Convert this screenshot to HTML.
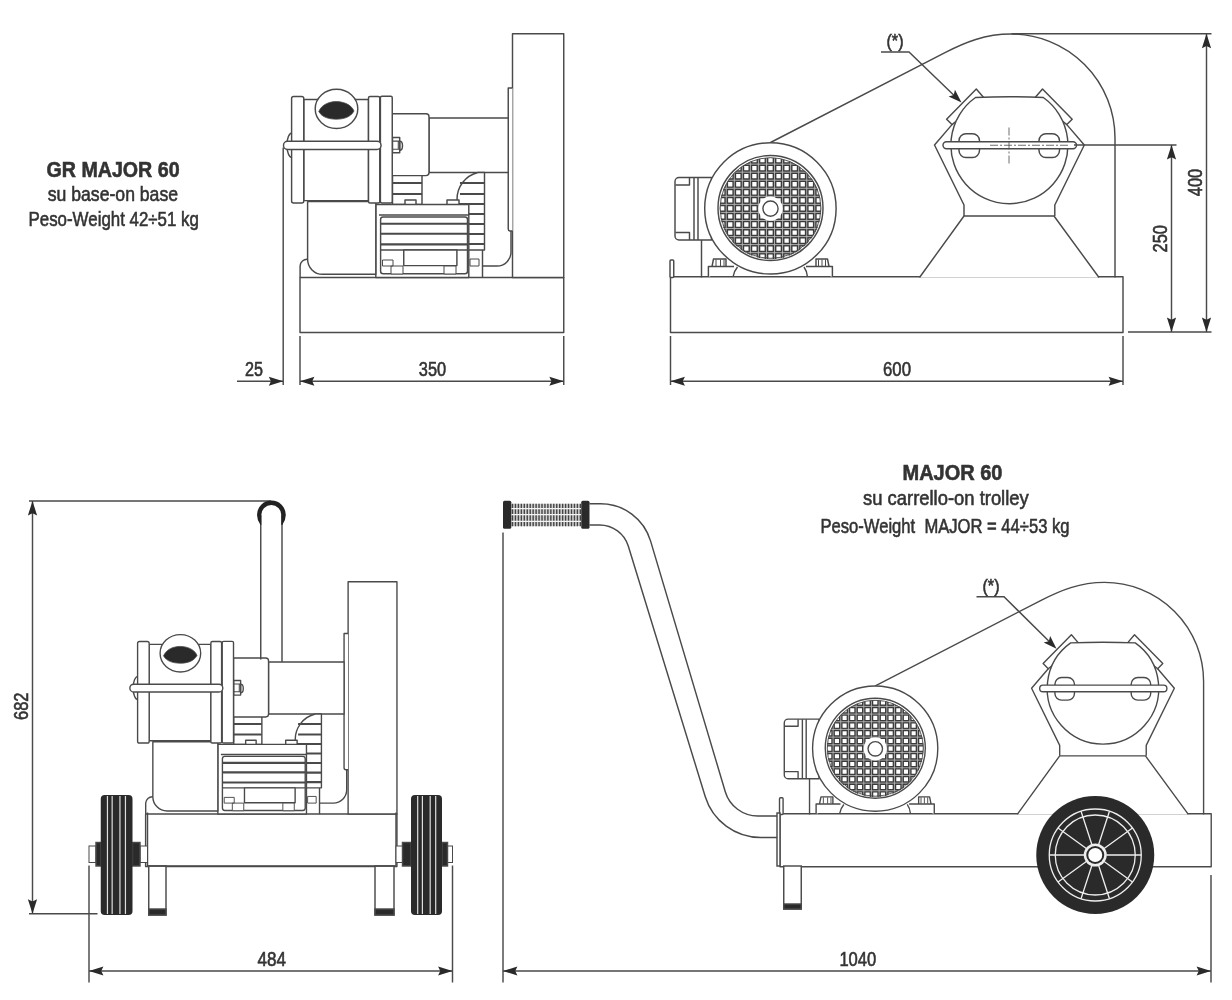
<!DOCTYPE html>
<html><head><meta charset="utf-8"><title>GR MAJOR 60</title>
<style>
html,body{margin:0;padding:0;background:#fff;overflow:hidden;}
svg{display:block;will-change:transform;}
text{font-family:"Liberation Sans",sans-serif;fill:#333;stroke:#333;stroke-width:0.6px;}
</style></head><body>
<svg width="1232" height="1000" viewBox="0 0 1232 1000">
<rect width="1232" height="1000" fill="#fff"/>
<defs>
<g id="A" fill="#fff" stroke="#4a4a4a" stroke-width="1.45" stroke-linejoin="round">
<rect x="300" y="277.5" width="263.75" height="55"/>
<rect x="512.5" y="33.75" width="51.25" height="243.75"/>
<path d="M482.5 250V277.5M483 266H497A14 14 0 0 0 511 252V231"/>
<path d="M512.5 88H508.25V229A2 2 0 0 0 510.25 231H512.5"/>
<rect x="429" y="118" width="79.25" height="54.5"/>
<path d="M484.5 172.5V250H457V200A27.5 27.5 0 0 1 478 172.5Z"/>
<path d="M460.0 183H484.5M460.0 194H484.5M457.0 204H484.5M457.0 214H484.5M457.0 224H484.5M457.0 234H484.5M457.0 244H484.5" stroke-width="2.2"/>
<rect x="392.5" y="172" width="29.5" height="32.5"/>
<path d="M392.5 183H422M392.5 194H422" stroke-width="2.2"/>
<path d="M405 204.4V200H416V204.4M447 204.4V200H459V204.4"/>
<rect x="375.8" y="204.4" width="93" height="73.1"/>
<path d="M379 215H468.8"/>
<rect x="380.6" y="217" width="86.9" height="56.7" rx="2.5"/>
<path d="M380.6 223.75H467.5M380.6 233.75H467.5M380.6 244.4H467.5" stroke-width="2.2"/>
<path d="M380.6 250H467.5"/>
<rect x="403.75" y="250" width="53.15" height="15.6"/>
<path d="M382.5 266V260H393V266ZM391 274V266H403V274ZM444 274V266H456V274ZM470 266V259H479V266Z" stroke-width="1"/>
<path d="M307.6 201.6V259.3A15 15 0 0 0 322.6 274.3H375.8V201.6Z"/>
<path d="M300.1 277.5V266A7 7 0 0 1 307.6 259.3" fill="none"/>
<path d="M392.25 113.75H426A3 3 0 0 1 429 116.75V172.6A3 3 0 0 1 426 175.6H392.25Z"/>
<path d="M399.7 141.1A2.8 4.65 0 0 1 399.7 150.4Z"/><path d="M392.5 137.4H399.7V152.7H392.5Z"/><path d="M392.5 141.1H399.7M392.5 149.2H399.7M398.3 141.1V149.2" fill="none" stroke-width="1.1"/>
<rect x="303.75" y="99.4" width="64.75" height="101.2"/>
<rect x="291.6" y="96.5" width="12.15" height="106.5" rx="2"/>
<rect x="368.5" y="96.5" width="11.25" height="106.5" rx="1.5"/>
<rect x="380.4" y="96.25" width="11.85" height="106.75" rx="1.5"/>
<ellipse cx="336.5" cy="108.8" rx="21.3" ry="19.6"/>
<path d="M318.8 111.5C322 104 330 101.6 336.3 101.6C342.5 101.6 351 104 354 111C350.5 117.5 343 119.2 336.3 119.2C329.5 119.2 322 117.5 318.8 111.5Z" fill="#2a2a2a" stroke-width="0.8"/>
<path d="M292 133A5 12 0 0 0 292 157.5" fill="none"/>
<rect x="283.5" y="141.25" width="97.5" height="8.15" rx="4"/>
</g>
<g id="B" fill="#fff" stroke="#4a4a4a" stroke-width="1.45" stroke-linejoin="round">
<rect x="670.5" y="276.8" width="452.5" height="55.6"/>
<rect x="670" y="260" width="3.75" height="17.5" rx="1"/>
<path d="M770.5 142.5L945 52.6C965 42.3 985 34 1011 34A104 104 0 0 1 1115 138V277.5" fill="none"/>
<path d="M919.5 277.5L964 216H1054L1099 277.5"/>
<path d="M952 124.6L934.5 145L964 205V216M1066.8 124.6L1084.3 145L1054.8 205V216" fill="none"/>
<path d="M984.5 98.5L976.3 89L946.6 119.2L952 124.6Z"/>
<path d="M1034.3 98.5L1042.5 89L1072.2 119.2L1066.8 124.6Z"/>
<path d="M975.5 97.5Q1009.4 96 1043.3 97.5A58.5 58.5 0 1 1 975.5 97.5Z"/>
<rect x="959" y="133.75" width="20.5" height="23.75" rx="7"/>
<rect x="1039" y="133.75" width="20.5" height="23.75" rx="7"/>
<rect x="943" y="141.75" width="133.5" height="7" rx="3.5"/>
<path d="M679 177.5H711.5V240H679A4 4 0 0 1 675 236V181.5A4 4 0 0 1 679 177.5Z"/>
<path d="M694 177.5V240M698 177.5V240M675.5 185H689.5V177.5M675.5 232.5H689.5V240" fill="none"/>
<path d="M701.5 240V277.5" fill="none"/>
<path d="M708.4 277V266.5H734M712 266.5L713.5 259H726V266.5M806 266.5H832.4V277M816 266.5V259H827.5L829 266.5" />
<path d="M716 259.5V266M720.5 259.5V266M724 259.5V266M818.5 259.5V266M822 259.5V266M825.5 259.5V266" stroke-width="1" fill="none"/>
<path d="M737.5 267Q734 271 733 277M804 267Q807 271 807.5 277" fill="none"/>
<circle cx="770.4" cy="208.4" r="65.7"/>
<clipPath id="gclip"><circle cx="770.5" cy="208.4" r="51"/></clipPath>
<g clip-path="url(#gclip)">
<circle cx="770.5" cy="208.4" r="51" fill="#3a3a3a" stroke="none"/>
<path d="M726.23 183.09V233.71M745.19 164.12H795.81M734.27 172.50V244.30M734.60 172.18H806.40M742.33 165.89V250.91M727.99 180.22H813.01M750.38 161.54V255.26M723.64 188.28H817.36M758.42 158.85V257.95M720.95 196.33H820.05M766.48 157.56V259.24M719.66 204.38H821.34M774.52 157.56V259.24M719.66 212.43H821.34M782.58 158.85V257.95M720.95 220.47H820.05M790.62 161.54V255.26M723.64 228.53H817.36M798.67 165.89V250.91M727.99 236.58H813.01M806.73 172.50V244.30M734.60 244.62H806.40M814.77 183.09V233.71M745.19 252.68H795.81" stroke="#b8b8b8" stroke-width="0.9" fill="none"/>
<path d="M720.05 190.15h4.3v4.3h-4.3zM720.05 198.20h4.3v4.3h-4.3zM720.05 206.25h4.3v4.3h-4.3zM720.05 214.30h4.3v4.3h-4.3zM720.05 222.35h4.3v4.3h-4.3zM728.10 174.05h4.3v4.3h-4.3zM728.10 182.10h4.3v4.3h-4.3zM728.10 190.15h4.3v4.3h-4.3zM728.10 198.20h4.3v4.3h-4.3zM728.10 206.25h4.3v4.3h-4.3zM728.10 214.30h4.3v4.3h-4.3zM728.10 222.35h4.3v4.3h-4.3zM728.10 230.40h4.3v4.3h-4.3zM728.10 238.45h4.3v4.3h-4.3zM736.15 166.00h4.3v4.3h-4.3zM736.15 174.05h4.3v4.3h-4.3zM736.15 182.10h4.3v4.3h-4.3zM736.15 190.15h4.3v4.3h-4.3zM736.15 198.20h4.3v4.3h-4.3zM736.15 206.25h4.3v4.3h-4.3zM736.15 214.30h4.3v4.3h-4.3zM736.15 222.35h4.3v4.3h-4.3zM736.15 230.40h4.3v4.3h-4.3zM736.15 238.45h4.3v4.3h-4.3zM736.15 246.50h4.3v4.3h-4.3zM744.20 166.00h4.3v4.3h-4.3zM744.20 174.05h4.3v4.3h-4.3zM744.20 182.10h4.3v4.3h-4.3zM744.20 190.15h4.3v4.3h-4.3zM744.20 198.20h4.3v4.3h-4.3zM744.20 206.25h4.3v4.3h-4.3zM744.20 214.30h4.3v4.3h-4.3zM744.20 222.35h4.3v4.3h-4.3zM744.20 230.40h4.3v4.3h-4.3zM744.20 238.45h4.3v4.3h-4.3zM744.20 246.50h4.3v4.3h-4.3zM752.25 157.95h4.3v4.3h-4.3zM752.25 166.00h4.3v4.3h-4.3zM752.25 174.05h4.3v4.3h-4.3zM752.25 182.10h4.3v4.3h-4.3zM752.25 190.15h4.3v4.3h-4.3zM752.25 198.20h4.3v4.3h-4.3zM752.25 206.25h4.3v4.3h-4.3zM752.25 214.30h4.3v4.3h-4.3zM752.25 222.35h4.3v4.3h-4.3zM752.25 230.40h4.3v4.3h-4.3zM752.25 238.45h4.3v4.3h-4.3zM752.25 246.50h4.3v4.3h-4.3zM752.25 254.55h4.3v4.3h-4.3zM760.30 157.95h4.3v4.3h-4.3zM760.30 166.00h4.3v4.3h-4.3zM760.30 174.05h4.3v4.3h-4.3zM760.30 182.10h4.3v4.3h-4.3zM760.30 190.15h4.3v4.3h-4.3zM760.30 198.20h4.3v4.3h-4.3zM760.30 206.25h4.3v4.3h-4.3zM760.30 214.30h4.3v4.3h-4.3zM760.30 222.35h4.3v4.3h-4.3zM760.30 230.40h4.3v4.3h-4.3zM760.30 238.45h4.3v4.3h-4.3zM760.30 246.50h4.3v4.3h-4.3zM760.30 254.55h4.3v4.3h-4.3zM768.35 157.95h4.3v4.3h-4.3zM768.35 166.00h4.3v4.3h-4.3zM768.35 174.05h4.3v4.3h-4.3zM768.35 182.10h4.3v4.3h-4.3zM768.35 190.15h4.3v4.3h-4.3zM768.35 198.20h4.3v4.3h-4.3zM768.35 206.25h4.3v4.3h-4.3zM768.35 214.30h4.3v4.3h-4.3zM768.35 222.35h4.3v4.3h-4.3zM768.35 230.40h4.3v4.3h-4.3zM768.35 238.45h4.3v4.3h-4.3zM768.35 246.50h4.3v4.3h-4.3zM768.35 254.55h4.3v4.3h-4.3zM776.40 157.95h4.3v4.3h-4.3zM776.40 166.00h4.3v4.3h-4.3zM776.40 174.05h4.3v4.3h-4.3zM776.40 182.10h4.3v4.3h-4.3zM776.40 190.15h4.3v4.3h-4.3zM776.40 198.20h4.3v4.3h-4.3zM776.40 206.25h4.3v4.3h-4.3zM776.40 214.30h4.3v4.3h-4.3zM776.40 222.35h4.3v4.3h-4.3zM776.40 230.40h4.3v4.3h-4.3zM776.40 238.45h4.3v4.3h-4.3zM776.40 246.50h4.3v4.3h-4.3zM776.40 254.55h4.3v4.3h-4.3zM784.45 157.95h4.3v4.3h-4.3zM784.45 166.00h4.3v4.3h-4.3zM784.45 174.05h4.3v4.3h-4.3zM784.45 182.10h4.3v4.3h-4.3zM784.45 190.15h4.3v4.3h-4.3zM784.45 198.20h4.3v4.3h-4.3zM784.45 206.25h4.3v4.3h-4.3zM784.45 214.30h4.3v4.3h-4.3zM784.45 222.35h4.3v4.3h-4.3zM784.45 230.40h4.3v4.3h-4.3zM784.45 238.45h4.3v4.3h-4.3zM784.45 246.50h4.3v4.3h-4.3zM784.45 254.55h4.3v4.3h-4.3zM792.50 166.00h4.3v4.3h-4.3zM792.50 174.05h4.3v4.3h-4.3zM792.50 182.10h4.3v4.3h-4.3zM792.50 190.15h4.3v4.3h-4.3zM792.50 198.20h4.3v4.3h-4.3zM792.50 206.25h4.3v4.3h-4.3zM792.50 214.30h4.3v4.3h-4.3zM792.50 222.35h4.3v4.3h-4.3zM792.50 230.40h4.3v4.3h-4.3zM792.50 238.45h4.3v4.3h-4.3zM792.50 246.50h4.3v4.3h-4.3zM800.55 166.00h4.3v4.3h-4.3zM800.55 174.05h4.3v4.3h-4.3zM800.55 182.10h4.3v4.3h-4.3zM800.55 190.15h4.3v4.3h-4.3zM800.55 198.20h4.3v4.3h-4.3zM800.55 206.25h4.3v4.3h-4.3zM800.55 214.30h4.3v4.3h-4.3zM800.55 222.35h4.3v4.3h-4.3zM800.55 230.40h4.3v4.3h-4.3zM800.55 238.45h4.3v4.3h-4.3zM800.55 246.50h4.3v4.3h-4.3zM808.60 174.05h4.3v4.3h-4.3zM808.60 182.10h4.3v4.3h-4.3zM808.60 190.15h4.3v4.3h-4.3zM808.60 198.20h4.3v4.3h-4.3zM808.60 206.25h4.3v4.3h-4.3zM808.60 214.30h4.3v4.3h-4.3zM808.60 222.35h4.3v4.3h-4.3zM808.60 230.40h4.3v4.3h-4.3zM808.60 238.45h4.3v4.3h-4.3zM816.65 190.15h4.3v4.3h-4.3zM816.65 198.20h4.3v4.3h-4.3zM816.65 206.25h4.3v4.3h-4.3zM816.65 214.30h4.3v4.3h-4.3zM816.65 222.35h4.3v4.3h-4.3z" fill="#fff" stroke="none"/>
</g>
<circle cx="770.5" cy="208" r="52.5" fill="none"/>
<circle cx="770.5" cy="208" r="50.3" fill="none" stroke-width="0.9"/>
<circle cx="770.5" cy="208.6" r="12.2" fill="#fff" stroke="none"/>
<circle cx="770.5" cy="208.6" r="7.6" fill="#fff" stroke-width="1.4"/>
</g>
</defs>
<use href="#A"/>
<use href="#A" transform="matrix(0.953 0 0 0.953 -140.3 549.6)"/>
<use href="#B"/>
<path d="M990 145.25H1070M1009 127.5V163.75" stroke="#4a4a4a" stroke-width="0.8" stroke-dasharray="8 2 2 2" fill="none"/>
<use href="#B" transform="matrix(0.953 0 0 0.953 141 550)"/>
<path d="M881 52H909L955.2 96.5M976.5 596.75H1004L1050.3 642.6" stroke="#4a4a4a" stroke-width="1.45" fill="none"/>
<path d="M961.50 102.50L948.58 96.46L953.72 95.01L954.96 89.83Z" fill="#2a2a2a" stroke="none"/>
<path d="M1056.50 648.75L1043.67 642.52L1048.83 641.15L1050.15 635.98Z" fill="#2a2a2a" stroke="none"/>
<g stroke="#4a4a4a" stroke-width="1.45" fill="none">
<path d="M283.2 147.5V385M300 336V385M563.75 336V385M237 381.25H283.2M300 381.25H563.75"/>
<path d="M670.5 336V385M1123 336V385M670.5 381.25H1123"/>
<path d="M1011.5 33.75H1211.5M1206.5 33.75V332M1074 145H1176.5M1171.5 145V332M1128 332H1211.5"/>
<path d="M29 501H271M32.5 501V913.75M29 913.75H97.5"/>
<path d="M89 865.5V982.5M452.5 865.5V982.5M89 971H452.5"/>
<path d="M503 532.5V982.5M1211 875V982.5M503 971H1211"/>
</g>
<path d="M283.2 381.25L268.8 376.65L270.96 381.25L268.8 385.85Z" fill="#2a2a2a" stroke="none"/>
<path d="M300 381.25L314.4 376.65L312.24 381.25L314.4 385.85Z" fill="#2a2a2a" stroke="none"/>
<path d="M563.75 381.25L549.35 376.65L551.51 381.25L549.35 385.85Z" fill="#2a2a2a" stroke="none"/>
<path d="M670.5 381.25L684.9 376.65L682.74 381.25L684.9 385.85Z" fill="#2a2a2a" stroke="none"/>
<path d="M1123 381.25L1108.6 376.65L1110.76 381.25L1108.6 385.85Z" fill="#2a2a2a" stroke="none"/>
<path d="M1206.5 33.75L1201.9 48.15L1206.5 45.99L1211.1 48.15Z" fill="#2a2a2a" stroke="none"/>
<path d="M1206.5 332L1201.9 317.6L1206.5 319.76L1211.1 317.6Z" fill="#2a2a2a" stroke="none"/>
<path d="M1171.5 145L1166.9 159.4L1171.5 157.24L1176.1 159.4Z" fill="#2a2a2a" stroke="none"/>
<path d="M1171.5 332L1166.9 317.6L1171.5 319.76L1176.1 317.6Z" fill="#2a2a2a" stroke="none"/>
<path d="M32.5 501L27.9 515.4L32.5 513.24L37.1 515.4Z" fill="#2a2a2a" stroke="none"/>
<path d="M32.5 913.75L27.9 899.35L32.5 901.51L37.1 899.35Z" fill="#2a2a2a" stroke="none"/>
<path d="M89 971L103.4 966.4L101.24 971L103.4 975.6Z" fill="#2a2a2a" stroke="none"/>
<path d="M452.5 971L438.1 966.4L440.26 971L438.1 975.6Z" fill="#2a2a2a" stroke="none"/>
<path d="M503 971L517.4 966.4L515.24 971L517.4 975.6Z" fill="#2a2a2a" stroke="none"/>
<path d="M1211 971L1196.6 966.4L1198.76 971L1196.6 975.6Z" fill="#2a2a2a" stroke="none"/>
<g stroke="#4a4a4a" stroke-width="1.45" fill="#fff">
<path d="M260.75 515V659.5M282 515V662" fill="none"/>
<path d="M257 515A14.4 14.4 0 0 1 285.8 515Q285.8 520 282.3 525H281.3V515A10 10 0 0 0 261.3 515V525H260.5Q257 520 257 515Z" fill="#222" stroke="none"/>
<rect x="148.75" y="866" width="17.25" height="49"/><rect x="148.75" y="909" width="17.25" height="6" fill="#2a2a2a"/>
<rect x="375" y="866" width="19" height="49"/><rect x="375" y="909" width="19" height="6" fill="#2a2a2a"/>
<path d="M147.5 812.5V866H396V812.5" fill="none"/>
<rect x="89" y="846" width="7" height="16.5" stroke-width="1"/>
<rect x="140" y="846" width="7.5" height="16.5" stroke-width="1"/>
<rect x="96" y="842.5" width="4.75" height="23.5" fill="#2a2a2a"/>
<rect x="132.5" y="842.5" width="7.5" height="23.5" fill="#2a2a2a"/>
<rect x="100.75" y="795" width="31.75" height="120" rx="4" fill="#2a2a2a" stroke="none"/>
<path d="M107.45 796V914M112.15 796V914M119.95 796V914M125.45 796V914" stroke="#ddd" stroke-width="1.2" fill="none"/>
<rect x="396" y="846" width="6.5" height="16.5" stroke-width="1"/>
<rect x="447.5" y="846" width="5.0" height="16.5" stroke-width="1"/>
<rect x="402.5" y="842.5" width="8.5" height="23.5" fill="#2a2a2a"/>
<rect x="442" y="842.5" width="5.5" height="23.5" fill="#2a2a2a"/>
<rect x="411" y="795" width="31" height="120" rx="4" fill="#2a2a2a" stroke="none"/>
<path d="M417.70 796V914M422.40 796V914M430.20 796V914M435.70 796V914" stroke="#ddd" stroke-width="1.2" fill="none"/>
</g>
<g stroke="#4a4a4a" stroke-width="1.45" fill="none">
<path d="M589.50 503.75L600.70 503.75A52 52 0 0 1 650.53 540.90L725.27 791.71A34 34 0 0 0 757.86 816.00L777.00 816.00"/>
<path d="M589.50 525.00L599.67 525.00A30 30 0 0 1 628.35 546.20L705.20 796.52A58 58 0 0 0 760.65 837.50L777.00 837.50"/>
</g>
<g stroke="none">
<rect x="511" y="503.75" width="70.25" height="22.5" fill="#d0d0d0"/>
<path d="M512.50 503.8V526.2M515.45 503.8V526.2M518.40 503.8V526.2M521.35 503.8V526.2M524.30 503.8V526.2M527.25 503.8V526.2M530.20 503.8V526.2M533.15 503.8V526.2M536.10 503.8V526.2M539.05 503.8V526.2M542.00 503.8V526.2M544.95 503.8V526.2M547.90 503.8V526.2M550.85 503.8V526.2M553.80 503.8V526.2M556.75 503.8V526.2M559.70 503.8V526.2M562.65 503.8V526.2M565.60 503.8V526.2M568.55 503.8V526.2M571.50 503.8V526.2M574.45 503.8V526.2M577.40 503.8V526.2M580.35 503.8V526.2" stroke="#444" stroke-width="1.4" fill="none"/>
<path d="M511 508.6H581.25M511 514.6H581.25M511 521.4H581.25" stroke="#f4f4f4" stroke-width="1.3" fill="none"/>
<rect x="503" y="500.75" width="8.25" height="28" rx="1.5" fill="#2a2a2a"/>
<rect x="581.25" y="500.75" width="8.25" height="28" rx="1.5" fill="#2a2a2a"/>
</g>
<g stroke="#4a4a4a" stroke-width="1.45" fill="#fff">
<rect x="783.75" y="866" width="17.5" height="43"/><rect x="783.75" y="904" width="17.5" height="5" fill="#2a2a2a"/>
<rect x="777" y="813" width="3" height="53"/>
</g>
<circle cx="1095.25" cy="855" r="59" fill="#2a2a2a"/>
<g stroke="#eee" fill="none" stroke-width="1.3"><circle cx="1095.25" cy="855" r="46"/><circle cx="1095.25" cy="855" r="40"/>
<path d="M1098.65 844.54L1109.46 811.25M1104.15 848.53L1132.46 827.96M1106.25 855.00L1141.25 855.00M1104.15 861.47L1132.46 882.04M1098.65 865.46L1109.46 898.75M1091.85 865.46L1081.04 898.75M1086.35 861.47L1058.04 882.04M1084.25 855.00L1049.25 855.00M1086.35 848.53L1058.04 827.96M1091.85 844.54L1081.04 811.25"/></g>
<circle cx="1095.25" cy="855" r="11.5" fill="#eee"/><circle cx="1095.25" cy="855" r="9" fill="#2a2a2a"/><circle cx="1095.25" cy="855" r="7" fill="#fff"/>
<text x="46.5" y="176.5" font-size="22.3" style="font-weight:bold;" textLength="133.1" lengthAdjust="spacingAndGlyphs">GR MAJOR 60</text>
<text x="47.8" y="200.9" font-size="20.7" style="" textLength="130.2" lengthAdjust="spacingAndGlyphs">su base-on base</text>
<text x="28.5" y="225.6" font-size="21" style="" textLength="170.4" lengthAdjust="spacingAndGlyphs">Peso-Weight 42&#247;51 kg</text>
<text x="902.5" y="480" font-size="22.3" style="font-weight:bold;" textLength="100.0" lengthAdjust="spacingAndGlyphs">MAJOR 60</text>
<text x="863" y="505" font-size="20.7" style="" textLength="165.75" lengthAdjust="spacingAndGlyphs">su carrello-on trolley</text>
<text x="820.5" y="533" font-size="21" style="" textLength="249.0" lengthAdjust="spacingAndGlyphs">Peso-Weight&#160;&#160;MAJOR = 44&#247;53 kg</text>
<text x="245" y="375.5" font-size="20" style="" textLength="18" lengthAdjust="spacingAndGlyphs">25</text>
<text x="418.8" y="375.5" font-size="20" style="" textLength="27.30000000000001" lengthAdjust="spacingAndGlyphs">350</text>
<text x="883" y="375.5" font-size="20" style="" textLength="28" lengthAdjust="spacingAndGlyphs">600</text>
<text x="257.5" y="966" font-size="20" style="" textLength="28.5" lengthAdjust="spacingAndGlyphs">484</text>
<text x="839.4" y="966" font-size="20" style="" textLength="36.85000000000002" lengthAdjust="spacingAndGlyphs">1040</text>
<text transform="translate(1201.7 196.25) rotate(-90)" x="0" y="0" font-size="20" textLength="27.5" lengthAdjust="spacingAndGlyphs">400</text>
<text transform="translate(1167.2 252.5) rotate(-90)" x="0" y="0" font-size="20" textLength="27.5" lengthAdjust="spacingAndGlyphs">250</text>
<text transform="translate(27.8 720) rotate(-90)" x="0" y="0" font-size="20" textLength="27.5" lengthAdjust="spacingAndGlyphs">682</text>
<text x="886.5" y="47.3" font-size="19" style="" textLength="17.0" lengthAdjust="spacingAndGlyphs">(*)</text>
<text x="982.5" y="592" font-size="19" style="" textLength="17.0" lengthAdjust="spacingAndGlyphs">(*)</text>
</svg></body></html>
